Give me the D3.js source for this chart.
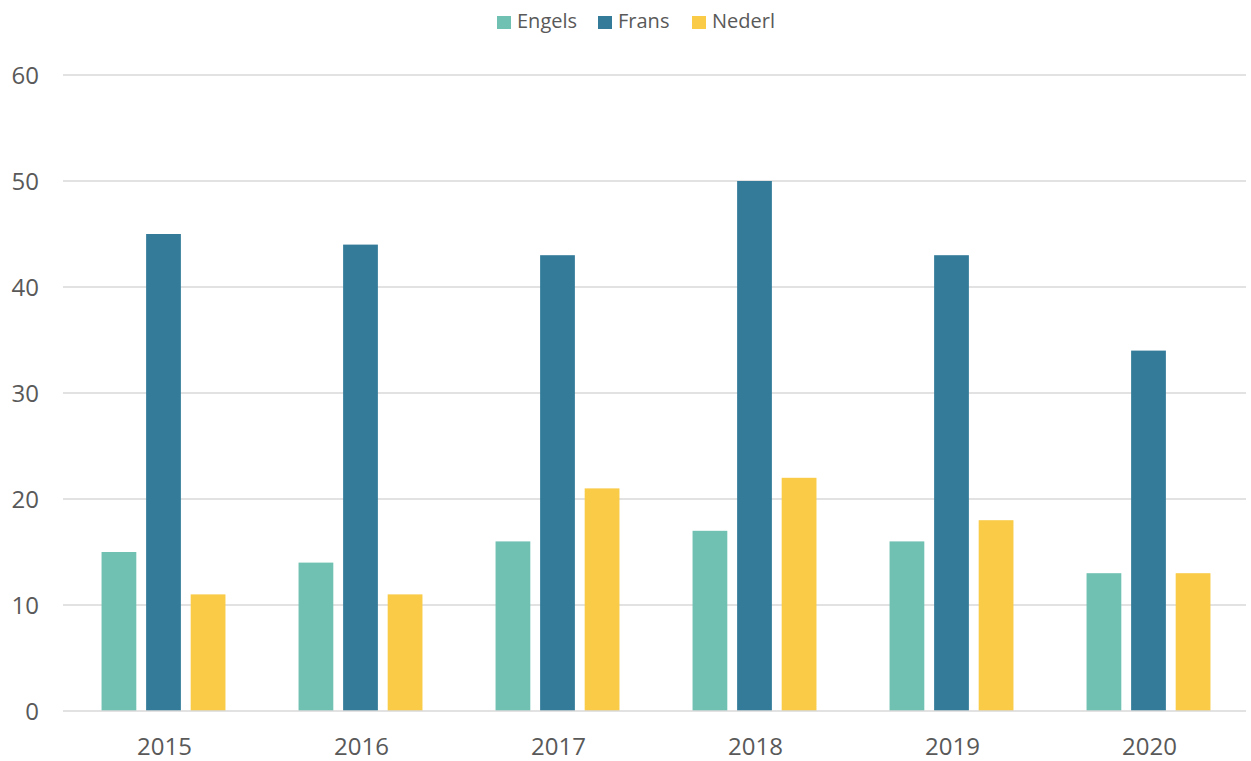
<!DOCTYPE html>
<html>
<head>
<meta charset="utf-8">
<script src="https://cdn.jsdelivr.net/npm/d3@7"></script>
<style>
  html, body { margin: 0; padding: 0; background: #fff; }
  svg { display: block; font-family: "Open Sans", "Liberation Sans", sans-serif; }
</style>
</head>
<body>
<script>
const years = ["2015", "2016", "2017", "2018", "2019", "2020"];
const seriesNames = ["Engels", "Frans", "Nederl"];
const engels = [15, 14, 16, 17, 16, 13];
const frans = [45, 44, 43, 50, 43, 34];
const nederl = [11, 11, 21, 22, 18, 13];
const yTicks = [0, 10, 20, 30, 40, 50, 60];
const colors = ["#71C1B2", "#347B99", "#F9CB47"];

const seriesValues = [engels, frans, nederl];
const W = 1251, H = 761;
const margin = { left: 63, right: 5, top: 75, bottom: 50 };

const svg = d3.select("body").append("svg").attr("width", W).attr("height", H);

const x0 = d3.scaleBand().domain(years).range([margin.left + 2, W - margin.right + 1]).padding(0);
const x1 = d3.scaleBand().domain(seriesNames).range([0, x0.bandwidth()])
  .paddingInner(0.22).paddingOuter(0.82);
const y = d3.scaleLinear().domain([0, 60]).range([711, 75]);

// gridlines
svg.append("g").selectAll("line").data(yTicks.filter(d => d > 0)).join("line")
  .attr("x1", margin.left).attr("x2", W - margin.right)
  .attr("y1", d => y(d)).attr("y2", d => y(d))
  .attr("stroke", "#d9d9d9").attr("stroke-width", 1.3);

// y labels
svg.append("g").selectAll("text").data(yTicks).join("text")
  .attr("x", 39).attr("y", d => y(d)).attr("dy", "0.36em")
  .attr("text-anchor", "end").attr("fill", "#595959").attr("font-size", 24)
  .text(d => d);

// bars
const groups = svg.append("g").selectAll("g").data(years).join("g")
  .attr("transform", d => `translate(${x0(d)},0)`);
groups.selectAll("rect").data((yr, i) => seriesNames.map((s, j) => ({ s, j, v: seriesValues[j][i] })))
  .join("rect")
  .attr("x", d => x1(d.s)).attr("width", x1.bandwidth())
  .attr("y", d => y(d.v)).attr("height", d => y(0) - y(d.v))
  .attr("fill", d => colors[d.j]);

// baseline
svg.append("line").attr("x1", margin.left).attr("x2", W - margin.right)
  .attr("y1", y(0)).attr("y2", y(0)).attr("stroke", "#d9d9d9").attr("stroke-width", 1.5);

// x labels
svg.append("g").selectAll("text").data(years).join("text")
  .attr("x", d => x0(d) + x0.bandwidth() / 2 + 1).attr("y", 755)
  .attr("text-anchor", "middle").attr("fill", "#595959").attr("font-size", 24)
  .text(d => d);

// legend
const legendX = [497, 598, 692];
const lg = svg.append("g").selectAll("g").data(seriesNames).join("g")
  .attr("transform", (d, i) => `translate(${legendX[i]},0)`);
lg.append("rect").attr("x", 0).attr("y", 16).attr("width", 14).attr("height", 13)
  .attr("fill", (d, i) => colors[i]);
lg.append("text").attr("x", 20).attr("y", 28)
  .attr("fill", "#595959").attr("font-size", 20).text(d => d);
</script>
</body>
</html>
